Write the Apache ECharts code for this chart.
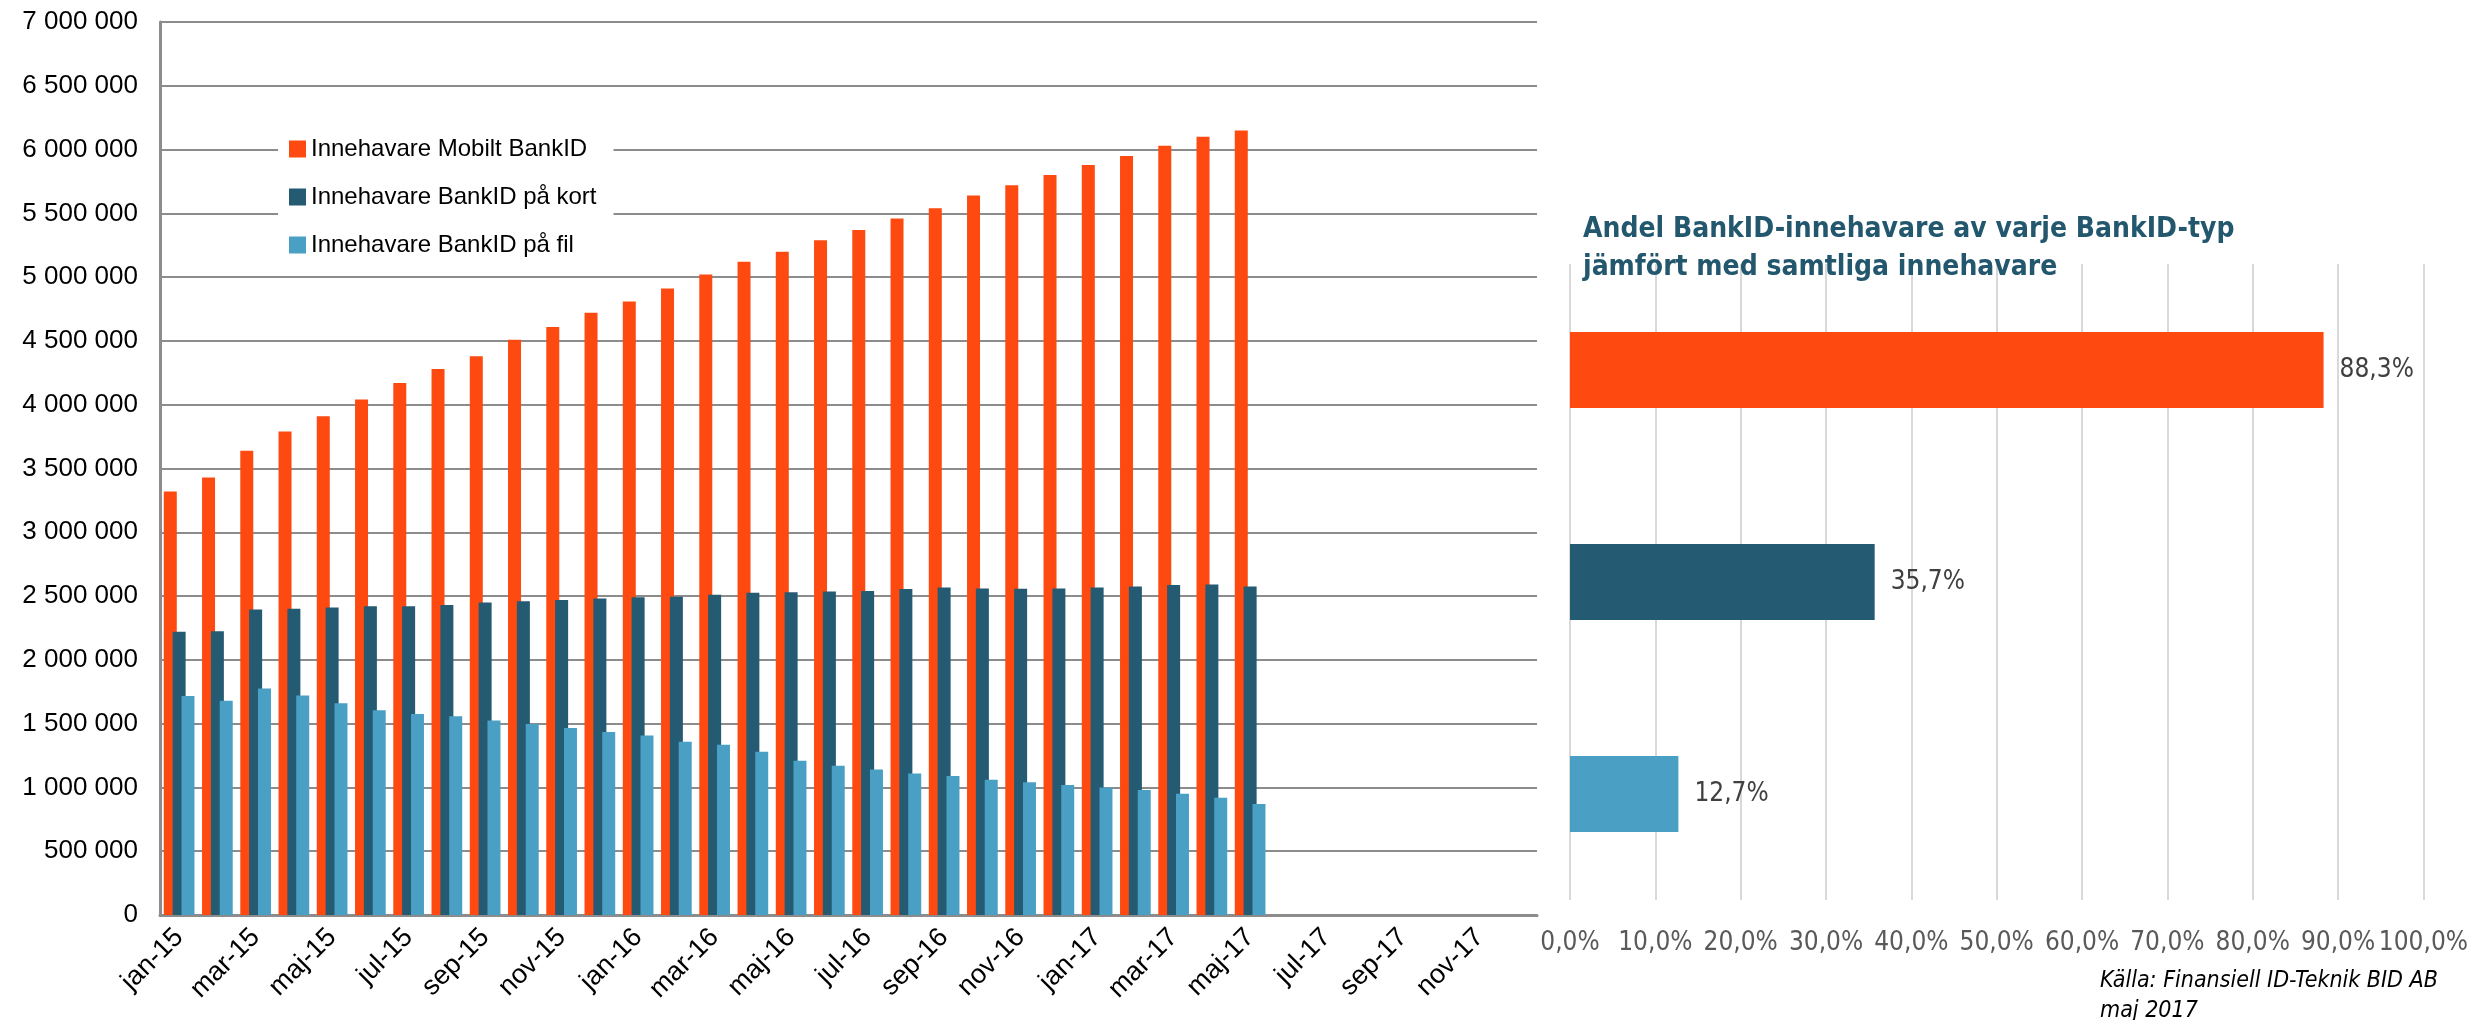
<!DOCTYPE html>
<html><head><meta charset="utf-8">
<script src="https://cdn.jsdelivr.net/npm/echarts@6/dist/echarts.min.js"></script>
<style>html,body{margin:0;padding:0;background:#fff}#c{width:2471px;height:1020px}</style>
</head><body><div id="c"></div>
<script>
// ---- data ----
const months = [
  'jan-15','feb-15','mar-15','apr-15','maj-15','jun-15','jul-15','aug-15','sep-15','okt-15','nov-15','dec-15',
  'jan-16','feb-16','mar-16','apr-16','maj-16','jun-16','jul-16','aug-16','sep-16','okt-16','nov-16','dec-16',
  'jan-17','feb-17','mar-17','apr-17','maj-17','jun-17','jul-17','aug-17','sep-17','okt-17','nov-17','dec-17'
];
const seriesNames = ['Innehavare Mobilt BankID', 'Innehavare BankID på kort', 'Innehavare BankID på fil'];
const mobiltBankID = [
  3320000, 3430000, 3640000, 3790000, 3910000, 4040000, 4170000, 4280000, 4380000, 4510000, 4610000, 4720000,
  4810000, 4910000, 5020000, 5120000, 5200000, 5290000, 5370000, 5460000, 5540000, 5640000, 5720000, 5800000,
  5880000, 5950000, 6030000, 6100000, 6150000
];
const kortBankID = [
  2220000, 2225000, 2395000, 2400000, 2410000, 2420000, 2420000, 2430000, 2450000, 2460000, 2470000, 2480000,
  2490000, 2495000, 2510000, 2526000, 2530000, 2535000, 2540000, 2555000, 2568000, 2560000, 2558000, 2560000,
  2568000, 2576000, 2587000, 2590000, 2576000
];
const filBankID = [
  1716000, 1680000, 1776000, 1720000, 1660000, 1605000, 1576000, 1557000, 1524000, 1497000, 1466000, 1434000,
  1408000, 1358000, 1334000, 1279000, 1210000, 1170000, 1140000, 1110000, 1090000, 1060000, 1040000, 1020000,
  1000000, 980000, 950000, 920000, 870000
];
const shareCategories = ['Mobilt BankID', 'BankID på kort', 'BankID på fil'];
const shareValues = [88.3, 35.7, 12.7];
const titleText = 'Andel BankID-innehavare av varje BankID-typ\njämfört med samtliga innehavare';
const sourceLines = ['Källa: Finansiell ID-Teknik BID AB', 'maj 2017'];

// ---- style ----
const colors = ['#fe4a11', '#245a72', '#4a9fc4'];
const gridGray = '#8c8c8c';
const narrow = "'Liberation Sans Narrow', 'DejaVu Sans Condensed', sans-serif";
const regular = "'Liberation Sans', Arial, sans-serif";

const fmtThousands = v => String(v).replace(/\B(?=(\d{3})+(?!\d))/g, ' ');
const fmtPct = v => Number(v).toFixed(1).replace('.', ',') + '%';

const chart = echarts.init(document.getElementById('c'), null, {renderer: 'canvas'});
const option = {
  backgroundColor: '#ffffff',
  animation: false,
  title: {
    text: titleText, left: 1578, top: 206,
    textStyle: {fontFamily: narrow, fontWeight: 'bold', fontSize: 28, color: '#23576e', lineHeight: 38}
  },
  legend: {
    data: seriesNames, orient: 'vertical', left: 278, top: 115,
    itemWidth: 17, itemHeight: 17, itemGap: 24,
    backgroundColor: '#ffffff', padding: [22, 17, 12, 11],
    icon: 'rect',
    textStyle: {fontFamily: regular, fontSize: 24, color: '#000'}
  },
  grid: [
    {left: 160, right: 934, top: 22, bottom: 105},
    {left: 1570, right: 36, top: 264, bottom: 120}
  ],
  xAxis: [
    {
      type: 'category', gridIndex: 0, data: months,
      axisTick: {show: false},
      axisLine: {lineStyle: {color: gridGray, width: 3}},
      axisLabel: {interval: 1, rotate: 45, fontFamily: regular, fontSize: 27, color: '#000', margin: 18}
    },
    {
      type: 'value', gridIndex: 1, min: 0, max: 100, interval: 10,
      axisLine: {show: false}, axisTick: {show: false},
      splitLine: {lineStyle: {color: '#d9d9d9', width: 2}},
      axisLabel: {formatter: fmtPct, fontFamily: narrow, fontSize: 26, color: '#595959', margin: 30}
    }
  ],
  yAxis: [
    {
      type: 'value', gridIndex: 0, min: 0, max: 7000000, interval: 500000,
      axisLine: {show: true, lineStyle: {color: gridGray, width: 3}},
      axisTick: {show: false},
      splitLine: {lineStyle: {color: gridGray, width: 2}},
      axisLabel: {formatter: fmtThousands, fontFamily: regular, fontSize: 26, color: '#000', margin: 22}
    },
    {
      type: 'category', gridIndex: 1, data: shareCategories, inverse: true,
      axisLine: {show: false}, axisTick: {show: false}, axisLabel: {show: false}
    }
  ],
  series: [
    {name: seriesNames[0], type: 'bar', xAxisIndex: 0, yAxisIndex: 0, data: mobiltBankID,
      barWidth: 13, barGap: '-32%', itemStyle: {color: colors[0]}},
    {name: seriesNames[1], type: 'bar', xAxisIndex: 0, yAxisIndex: 0, data: kortBankID,
      barWidth: 13, barGap: '-32%', itemStyle: {color: colors[1]}},
    {name: seriesNames[2], type: 'bar', xAxisIndex: 0, yAxisIndex: 0, data: filBankID,
      barWidth: 13, barGap: '-32%', itemStyle: {color: colors[2]}},
    {name: 'Andel', type: 'bar', xAxisIndex: 1, yAxisIndex: 1, barWidth: 76,
      data: shareValues.map((v, i) => ({value: v, itemStyle: {color: colors[i]}})),
      label: {show: true, position: 'right', distance: 16, formatter: p => fmtPct(p.value),
        fontFamily: narrow, fontSize: 26, color: '#404040'}}
  ],
  graphic: sourceLines.map((t, i) => ({
    type: 'text', left: 2100, top: 970 + i * 30,
    style: {text: t, font: "italic 23px 'Liberation Sans Narrow', 'DejaVu Sans Condensed', sans-serif", fill: '#000'}
  }))
};
chart.setOption(option);
</script>
</body></html>
